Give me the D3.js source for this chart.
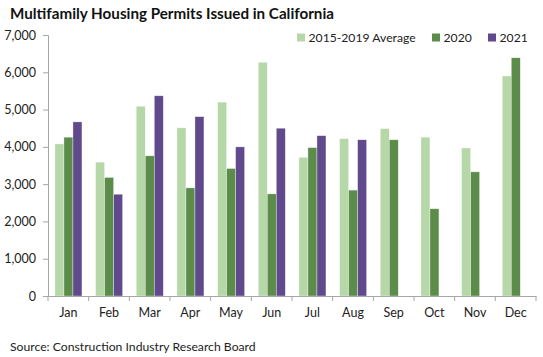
<!DOCTYPE html>
<html><head><meta charset="utf-8">
<script src="https://cdn.jsdelivr.net/npm/d3@7"></script>
<style>
body{margin:0;background:#fff;}
svg{display:block;font-family:Lato, "Open Sans", sans-serif;}
</style></head>
<body><svg id="c" width="543" height="357"></svg>
<script>
const months = ["Jan","Feb","Mar","Apr","May","Jun","Jul","Aug","Sep","Oct","Nov","Dec"];
const seriesNames = ["2015-2019 Average","2020","2021"];
const avg2015_2019 = [4080,3590,5090,4510,5200,6270,3720,4220,4490,4260,3970,5900];
const y2020 = [4260,3180,3760,2900,3420,2740,3980,2840,4190,2340,3330,6390];
const y2021 = [4670,2730,5370,4810,4000,4500,4300,4190,null,null,null,null];
const yTicks = [0,1000,2000,3000,4000,5000,6000,7000];
const colors = ["#b6d7a8","#5b8c4a","#604a8b"];

(function(){
const svg = d3.select("#c");
const pl = 48, pr = 536, pt = 35, pb = 296;
const y = d3.scaleLinear().domain([0,7000]).range([pb, pt]);
const x0 = d3.scaleBand().domain(months).range([pl, pr]).paddingInner(0).paddingOuter(0);
const bw = x0.bandwidth();
const x1 = d3.scaleBand().domain(seriesNames).range([bw*0.17, bw*0.835]).padding(0);
const series = [avg2015_2019, y2020, y2021];

series.forEach((vals, si) => {
  svg.append("g").selectAll("rect").data(months.map((m,i)=>({m, v: vals[i]})).filter(d=>d.v!=null))
    .join("rect")
    .attr("x", d => x0(d.m) + x1(seriesNames[si]))
    .attr("y", d => y(d.v))
    .attr("width", x1.bandwidth())
    .attr("height", d => pb - y(d.v))
    .attr("fill", colors[si])
    .attr("stroke", "rgba(255,255,255,0.6)")
    .attr("stroke-width", 0.6);
});

const yAxis = svg.append("g").attr("transform", `translate(${pl},0)`)
  .call(d3.axisLeft(y).tickValues(yTicks).tickSize(5).tickPadding(7).tickFormat(d3.format(",")));
yAxis.select(".domain").attr("stroke", "#a6a6a6");
yAxis.selectAll(".tick line").attr("stroke", "#a6a6a6");
yAxis.selectAll("text").attr("font-size", 12.5).attr("fill", "#222").attr("font-family","Lato, sans-serif");

const xAxis = svg.append("g").attr("transform", `translate(0,${pb})`)
  .call(d3.axisBottom(x0).tickSize(0).tickPadding(12));
xAxis.select(".domain").attr("stroke", "#a6a6a6");
xAxis.selectAll("text").attr("font-size", 12.5).attr("fill", "#222").attr("font-family","Lato, sans-serif");
const bounds = months.map(m => x0(m)).concat([pr]);
svg.append("g").selectAll("line").data(bounds).join("line")
  .attr("x1", d=>d).attr("x2", d=>d).attr("y1", pb).attr("y2", pb+5)
  .attr("stroke", "#a6a6a6");

svg.append("text").attr("x", 10).attr("y", 19)
  .attr("font-size", 15.2).attr("font-weight", "bold").attr("fill", "#111")
  .text("Multifamily Housing Permits Issued in California");

const legendX = [297, 432, 488];
const lg = svg.append("g");
seriesNames.forEach((n, i) => {
  lg.append("rect").attr("x", legendX[i]).attr("y", 33.5).attr("width", 8).attr("height", 8).attr("fill", colors[i]);
  lg.append("text").attr("x", legendX[i] + 11.5).attr("y", 42).attr("font-size", 12.2).attr("fill", "#222").text(n);
});

svg.append("text").attr("x", 10).attr("y", 351).attr("font-size", 12.2).attr("fill", "#222")
  .text("Source: Construction Industry Research Board");
})();
</script></body></html>
